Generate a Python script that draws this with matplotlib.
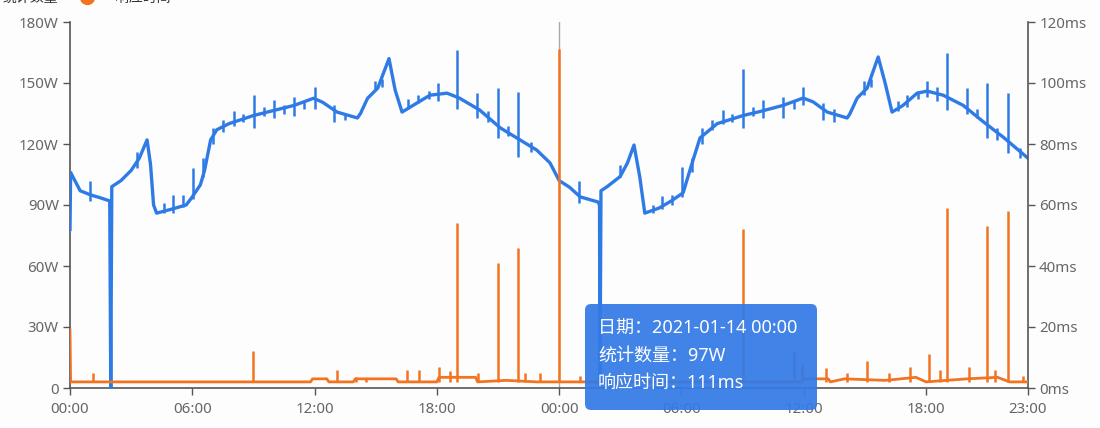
import matplotlib
matplotlib.use('Agg')
import matplotlib.pyplot as plt
import matplotlib.patches as patches
import matplotlib.transforms as mtransforms
from matplotlib.lines import Line2D

plt.rcParams['font.family'] = ['Noto Sans', 'Noto Sans CJK SC', 'DejaVu Sans']

dbl_width = 1100.0
dbl_height = 428.0
dbl_dpi = 100.0

color_count = '#2f7be6'
color_resp = '#f27420'

# 统计数量 (W), hours from 2021-01-13 00:00
count_t = [0.0, 0.03, 0.5, 1.0, 1.5, 1.95, 2.0, 2.05, 2.5, 3.0, 3.4, 3.78, 3.95, 4.1, 4.25,
           5.0, 5.7, 6.0, 6.4, 6.6, 6.9, 7.2, 7.8, 9.0, 9.8, 11.0, 11.95, 12.4, 13.1, 14.1,
           14.25, 14.6, 15.1, 15.65, 15.95, 16.29, 16.83, 17.66, 18.5, 19.1, 20.1, 21.1,
           22.08, 22.9, 23.55, 24.0,
           24.5, 25.03, 25.9, 25.98, 26.0, 26.05, 26.35, 26.99, 27.35, 27.67, 27.95, 28.2,
           28.9, 29.5, 30.08, 30.52, 30.91, 31.75, 33.02, 33.86, 34.99, 35.97, 36.46, 37.15,
           38.13, 38.27, 38.62, 39.11, 39.65, 39.99, 40.33, 40.87, 41.56, 42.05, 42.84,
           43.82, 44.8, 45.78, 47.0]
count_w = [78, 106, 97, 95, 93.5, 92, 0, 99, 102, 107, 113, 122, 110, 90, 86,
           88, 90, 94, 100, 107, 122, 127, 130, 134, 136, 139, 142.5, 140.5, 135.7, 132.8,
           135, 142.5, 147.5, 162, 146.6, 135.7, 139, 144, 145, 142.6, 136.7, 128,
           122, 117, 110.7, 102,
           98.8, 94, 91.5, 90, 0, 97, 99, 104, 110.7, 119.5, 104, 86,
           88.5, 92, 96, 110.6, 123, 130, 134, 136, 139, 142.6, 140.7, 135.7,
           132.8, 135, 142.6, 147.5, 162.8, 150, 135.7, 139, 145, 146, 144,
           139, 131, 123.4, 113]

# short spikes of 统计数量: time, low, high
count_spike_t = [0.98, 3.3, 4.6, 5.05, 5.54, 6.03, 6.52, 7.0, 7.5, 8.05, 8.5, 9.02, 9.5, 10.0,
                 10.5, 11.0, 11.5, 12.0, 12.95, 13.5, 14.94, 15.3, 16.6, 17.07, 17.6, 18.05,
                 18.99, 19.97, 20.5, 21.0, 21.5, 21.98, 22.6,
                 24.98, 26.99, 28.6, 29.05, 29.54, 30.03, 30.52, 31.0, 31.5, 32.05, 32.5,
                 33.02, 33.5, 34.0, 34.99, 35.5, 35.97, 36.95, 37.5, 38.94, 39.3, 40.6,
                 41.07, 41.6, 42.05, 42.54, 43.04, 44.0, 44.5, 45.0, 45.5, 46.03, 46.6]
count_spike_lo = [92, 108, 86, 86, 89, 93, 104, 120, 126, 129, 131, 128, 134, 133,
                  135, 134, 137, 137, 131, 132, 147, 148, 137, 140, 142, 141,
                  137, 133, 131, 123, 124, 113.6, 116,
                  91, 104, 86, 88, 90, 94, 106, 120, 127, 130, 131,
                  128, 134, 133, 133, 137, 139, 132, 131, 144, 148, 136,
                  138, 142, 143, 141, 136.7, 135, 133, 123, 122, 115.6, 113]
count_spike_hi = [102, 116, 91, 95, 95, 108, 113, 128, 132, 136, 135, 144, 138, 141.6,
                  139, 143, 141, 148, 139, 135, 151, 152, 142, 144, 146, 150,
                  166, 145, 136, 147.5, 129, 145.6, 121,
                  102, 109.7, 90, 94.4, 95, 108.7, 113, 128, 132, 136.7, 135,
                  157, 138, 141.6, 143, 141, 148, 140, 137, 151, 152, 141,
                  144, 146, 151, 148, 165, 147.5, 137, 150, 128, 145, 118]

# 响应时间 (ms)
resp_t = [0.0, 0.03, 11.8, 11.9, 12.6, 12.7, 13.9, 14.0, 16.0, 16.1, 18.0, 18.1, 19.9, 20.0,
          21.4, 22.9, 24.0, 24.1, 35.9, 36.0, 37.2, 37.3, 38.0, 40.0, 41.5, 42.0, 44.0,
          45.5, 46.1, 47.0]
resp_ms = [19, 2, 2, 3, 3, 2, 2, 3, 3, 2, 2, 3.5, 3.5, 2,
           2.5, 2, 2, 2, 2, 3, 3, 2, 3, 2.5, 3.5, 2, 3,
           3.5, 2, 2]

resp_spike_t = [1.13, 8.98, 13.1, 14.03, 14.5, 16.54, 17.12, 18.1, 18.65, 18.99, 20.02,
                21.0, 21.98, 22.3, 23.06, 24.0, 25.0, 33.02, 35.5, 35.9, 37.1, 38.1, 39.1,
                40.2, 41.2, 42.15, 42.7, 43.02, 44.1, 45.0, 45.4, 46.02, 46.76]
resp_spike_ms = [5, 12, 6, 3.5, 3, 6, 6, 7, 5.5, 54, 5,
                 41, 46, 5, 5, 111, 4, 52, 12, 8, 6.5, 5, 9,
                 5, 7, 11, 6, 59, 7, 53, 6, 58, 4]

xtick_pos = [0, 6, 12, 18, 24, 30, 36, 42, 47]
xtick_labels = ['00:00', '06:00', '12:00', '18:00', '00:00', '06:00', '12:00', '18:00', '23:00']
ytick_left = [0, 30, 60, 90, 120, 150, 180]
ytick_left_labels = ['0', '30W', '60W', '90W', '120W', '150W', '180W']
ytick_right = [0, 20, 40, 60, 80, 100, 120]
ytick_right_labels = ['0ms', '20ms', '40ms', '60ms', '80ms', '100ms', '120ms']

tooltip_lines = ['日期：2021-01-14 00:00', '统计数量：97W', '响应时间：111ms']
pointer_t = 24.0

fig = plt.figure(figsize=(dbl_width / dbl_dpi, dbl_height / dbl_dpi), dpi=dbl_dpi)
fig.patch.set_facecolor('#fdfdfd')
ax = fig.add_axes([70 / dbl_width, 40 / dbl_height, 958 / dbl_width, 366 / dbl_height])
ax2 = ax.twinx()
ax.set_zorder(2)
ax2.set_zorder(3)
ax.patch.set_visible(False)
ax2.patch.set_visible(False)

ax.axvline(pointer_t, color='#aaaaaa', lw=1, zorder=1)

ax.plot(count_t, count_w, color=color_count, lw=2.4, solid_joinstyle='round', zorder=3)
ax.vlines(count_spike_t, count_spike_lo, count_spike_hi, color=color_count, lw=1.8, zorder=3)

ax2.plot(resp_t, resp_ms, color=color_resp, lw=2.0, zorder=3)
ax2.vlines(resp_spike_t, [2] * len(resp_spike_t), resp_spike_ms, color=color_resp, lw=1.8, zorder=3)

ax.set_xlim(0, 47)
ax.set_ylim(0, 180)
ax2.set_ylim(0, 120)

tick_color = '#666666'
axis_color = '#555555'
ax.set_xticks(xtick_pos)
ax.set_xticklabels(xtick_labels)
ax.set_yticks(ytick_left)
ax.set_yticklabels(ytick_left_labels)
ax2.set_yticks(ytick_right)
ax2.set_yticklabels(ytick_right_labels)

for a in (ax, ax2):
    for s in a.spines.values():
        s.set_visible(False)
    a.tick_params(colors=axis_color, labelcolor=tick_color, labelsize=10.8, length=5, width=1, direction='out')
ax.spines['left'].set_visible(True)
ax.spines['bottom'].set_visible(True)
ax2.spines['right'].set_visible(True)
for s in (ax.spines['left'], ax.spines['bottom'], ax2.spines['right']):
    s.set_color(axis_color)
    s.set_linewidth(1.2)
ax.tick_params(axis='x', pad=5)
ax.tick_params(axis='y', pad=3)
ax2.tick_params(axis='y', pad=3)

# legend, cut off by the top edge as in the reference
fig.text(3 / dbl_width, 1 - 2 / dbl_height, '统计数量', fontsize=10, color='#333333', va='baseline')
fig.add_artist(Line2D([87 / dbl_width], [1 + 3 / dbl_height], marker='o', markersize=10,
                      color=color_resp, transform=fig.transFigure))
fig.text(115 / dbl_width, 1 - 2 / dbl_height, '响应时间', fontsize=10, color='#333333', va='baseline')

# tooltip
box = patches.FancyBboxPatch((585, 18), 232, 106, boxstyle='round,pad=0,rounding_size=6',
                             facecolor=(0.20, 0.48, 0.90, 0.93), edgecolor='none',
                             transform=mtransforms.IdentityTransform(), zorder=10)
fig.add_artist(box)
for i, line in enumerate(tooltip_lines):
    fig.text(598 / dbl_width, (428 - 329 - 27 * i) / dbl_height, line, fontsize=13,
             color='white', va='center', ha='left', zorder=11)

fig.savefig('out.png', dpi=dbl_dpi)
